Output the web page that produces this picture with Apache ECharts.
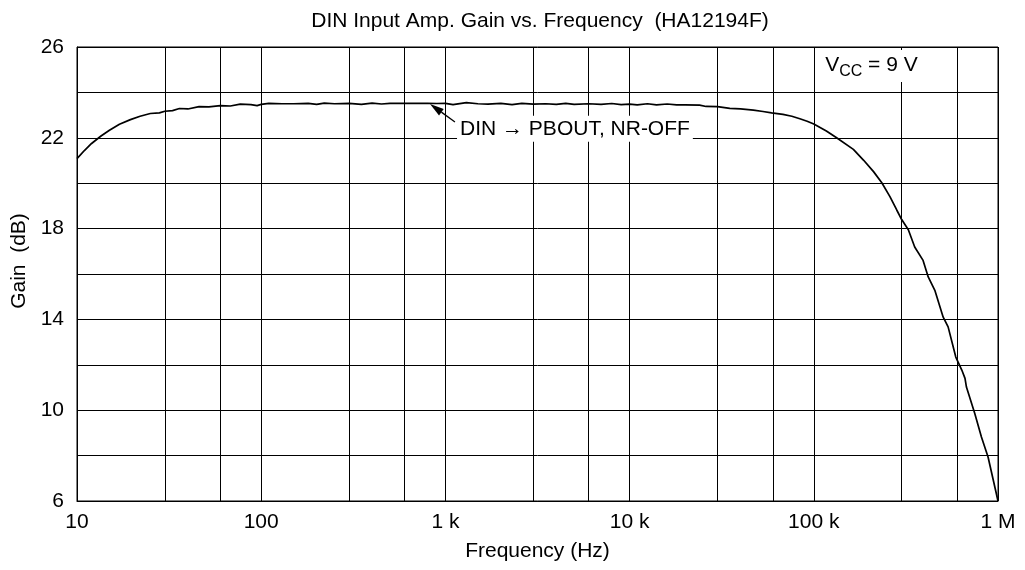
<!DOCTYPE html>
<html><head><meta charset="utf-8">
<script src="https://cdn.jsdelivr.net/npm/echarts@6/dist/echarts.min.js"></script>
<style>html,body{margin:0;padding:0;background:#fff}#c{width:1025px;height:570px}</style>
</head><body><div id="c"></div>
<script>
const freqHz = [10, 11, 12, 13.5, 15, 17, 19.5, 22, 25, 28, 30, 33, 36, 40, 46, 52, 60, 68, 77, 88, 95, 100,
  110, 130, 150, 180, 200, 220, 250, 300, 350, 400, 450, 500, 600, 700, 800, 900, 1000, 1100, 1300, 1500,
  1700, 2000, 2300, 2600, 3000, 3500, 4000, 4500, 5000, 6000, 7000, 8000, 9000, 10000, 11000, 12500, 14000,
  16000, 18000, 20000, 24000, 26000, 30000, 35000, 40000, 47000, 53000, 59000, 68000, 76000, 84000, 92000,
  100000, 117000, 133000, 164000, 186000, 211000, 234000, 259000, 282000, 300000, 326000, 353000, 392000,
  418000, 454000, 504000, 536000, 590000, 636000, 662000, 674000, 748000, 813000, 883000, 1000000];
const gainDb = [21.08, 21.45, 21.75, 22.08, 22.33, 22.6, 22.8, 22.95, 23.07, 23.1, 23.17, 23.2, 23.29, 23.27, 23.37, 23.36, 23.42, 23.4, 23.48, 23.46, 23.42, 23.47,
  23.52, 23.5, 23.5, 23.52, 23.47, 23.53, 23.5, 23.52, 23.47, 23.53, 23.49, 23.52, 23.52, 23.52, 23.52, 23.51, 23.52, 23.46, 23.55, 23.5,
  23.48, 23.52, 23.46, 23.52, 23.48, 23.5, 23.47, 23.52, 23.47, 23.5, 23.47, 23.51, 23.46, 23.48, 23.45, 23.5, 23.45,
  23.49, 23.45, 23.45, 23.44, 23.38, 23.37, 23.3, 23.27, 23.22, 23.16, 23.1, 23.03, 22.95, 22.84, 22.73,
  22.61, 22.3, 22.0, 21.49, 21.02, 20.51, 20.02, 19.41, 18.82, 18.4, 17.95, 17.19, 16.6,
  15.87, 15.28, 14.1, 13.67, 12.34, 11.77, 11.4, 11.02, 9.85, 8.82, 7.94, 6.0];
const xTickLabels = {10: '10', 100: '100', 1000: '1 k', 10000: '10 k', 100000: '100 k', 1000000: '1 M'};
const yTickLabels = [6, 10, 14, 18, 22, 26];
const minorGridFreqs = [30, 60, 300, 600, 3000, 6000, 30000, 60000, 300000, 600000];
const titleText = 'DIN Input Amp. Gain vs. Frequency  (HA12194F)';
const xName = 'Frequency (Hz)';
const yName = 'Gain  (dB)';
const curveLabel = 'DIN \u2192 PBOUT, NR-OFF';
const curveLabelAt = [5050, 22.4];
const arrowFrom = [1127, 22.7];
const arrowTo = [825, 23.49];
const vccAt = [111000, 25.16];

const FONT = '"Liberation Sans", Arial, Helvetica, sans-serif';
const FS = 21;
const chart = echarts.init(document.getElementById('c'), null, {renderer: 'canvas'});
const data = freqHz.map((f, i) => [f, gainDb[i]]);
chart.setOption({
  animation: false,
  backgroundColor: '#fff',
  textStyle: {fontFamily: FONT},
  title: {text: titleText, left: 535, textAlign: 'center', top: 6,
    textStyle: {fontSize: FS, fontWeight: 'normal', color: '#000', fontFamily: FONT}},
  grid: {left: 77, right: 27, top: 47, bottom: 69, show: true, borderColor: '#000', borderWidth: 1, containLabel: false},
  xAxis: {type: 'log', logBase: 10, min: 10, max: 1000000,
    name: xName, nameLocation: 'middle', nameGap: 40,
    nameTextStyle: {fontSize: FS, color: '#000', fontFamily: FONT},
    axisLine: {show: true, lineStyle: {color: '#000', width: 1}},
    axisTick: {show: false},
    axisLabel: {fontSize: FS, color: '#000', margin: 11, fontFamily: FONT,
      formatter: v => xTickLabels[Math.round(v)] || ''},
    splitLine: {show: true, lineStyle: {color: '#000', width: 1}}},
  yAxis: {type: 'value', min: 6, max: 26, interval: 2,
    axisLine: {show: true, lineStyle: {color: '#000', width: 1}},
    axisTick: {show: false},
    axisLabel: {fontSize: FS, color: '#000', margin: 13, fontFamily: FONT,
      formatter: v => yTickLabels.includes(v) ? String(v) : ''},
    splitLine: {show: true, lineStyle: {color: '#000', width: 1}}},
  series: [{
    type: 'line', data: data, showSymbol: false, symbol: 'none', smooth: false,
    lineStyle: {color: '#000', width: 1.7}, z: 5,
    markLine: {silent: true, symbol: ['none', 'none'], animation: false,
      label: {show: false},
      lineStyle: {color: '#000', width: 1, type: 'solid'},
      data: minorGridFreqs.map(f => ({xAxis: f}))}
  }]
});

function px(p) { return chart.convertToPixel({xAxisIndex: 0, yAxisIndex: 0}, p); }
const a0 = px(arrowFrom), a1 = px(arrowTo);
const ang = Math.atan2(a1[1] - a0[1], a1[0] - a0[0]);
const headLen = 14, headW = 4;
const bx = a1[0] - headLen * Math.cos(ang), by = a1[1] - headLen * Math.sin(ang);
const nx = -Math.sin(ang) * headW, ny = Math.cos(ang) * headW;
const lp = px(curveLabelAt);
const vp = px(vccAt);
chart.setOption({
  graphic: [
    {type: 'line', z: 20, shape: {x1: a0[0], y1: a0[1], x2: bx, y2: by}, style: {stroke: '#000', lineWidth: 1.3}},
    {type: 'polygon', z: 20, shape: {points: [[a1[0], a1[1]], [bx + nx, by + ny], [bx - nx, by - ny]]}, style: {fill: '#000'}},
    {type: 'text', z: 20, x: lp[0], y: lp[1], style: {text: curveLabel, font: FS + 'px ' + FONT, fill: '#000',
      align: 'center', verticalAlign: 'middle', backgroundColor: '#fff', padding: [3, 3, 2, 3]}},
    {type: 'text', z: 20, x: vp[0], y: vp[1], style: {
      text: '{v|V}{s|CC}{v| = 9 V}', fill: '#000', align: 'left', verticalAlign: 'middle',
      backgroundColor: '#fff', padding: [0, 6, 2, 3],
      rich: {v: {fontSize: FS, fontFamily: FONT, lineHeight: 30, verticalAlign: 'middle', fill: '#000'},
             s: {fontSize: 16, fontFamily: FONT, lineHeight: 14, verticalAlign: 'bottom', fill: '#000'}}}},
    {type: 'text', z: 20, x: 19, y: 261, rotation: Math.PI / 2, style: {text: yName, font: FS + 'px ' + FONT, fill: '#000',
      align: 'center', verticalAlign: 'middle'}}
  ]
});
</script></body></html>
